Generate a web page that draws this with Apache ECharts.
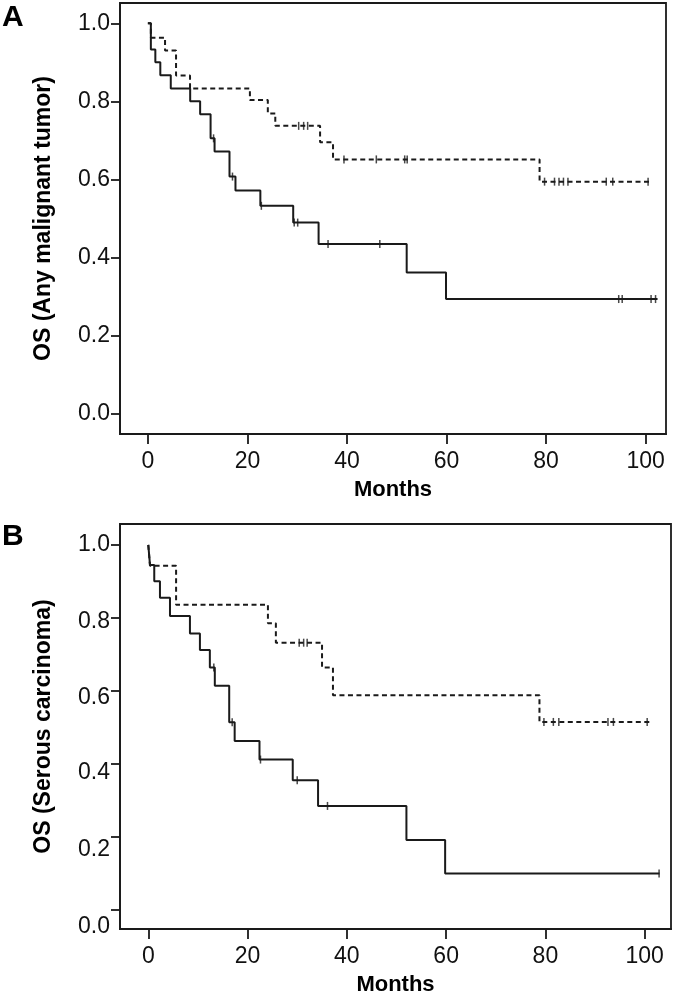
<!DOCTYPE html>
<html><head><meta charset="utf-8">
<script src="https://cdn.jsdelivr.net/npm/echarts@6/dist/echarts.min.js"></script>
<style>html,body{margin:0;padding:0;background:#fff}#c{width:675px;height:997px}</style>
</head><body><div id="c"></div>
<script>
// ---- Panel A: OS (Any malignant tumor) ----
const aSolidT = [0, 0.6, 1.5, 2.5, 4.6, 8.5, 10.5, 12.6, 13.4, 16.4, 17.6, 22.6, 29.2, 34.3, 52.0, 59.9, 102.4];
const aSolidS = [1.0, 0.933, 0.900, 0.867, 0.833, 0.800, 0.767, 0.705, 0.671, 0.607, 0.571, 0.532, 0.489, 0.434, 0.361, 0.293, 0.293];
const aSolidCens = [13.2, 17.0, 22.8, 29.4, 30.1, 36.2, 46.6, 94.6, 95.3, 101.1, 102.0];
const aDashT = [0, 0.6, 3.45, 5.66, 8.47, 20.5, 24.1, 25.6, 34.6, 37.2, 78.7, 101.0];
const aDashS = [1.0, 0.963, 0.930, 0.866, 0.833, 0.803, 0.769, 0.737, 0.695, 0.651, 0.594, 0.594];
const aDashCens = [30.3, 31.3, 32.1, 39.4, 45.9, 51.6, 52.1, 79.7, 81.7, 82.6, 83.5, 84.4, 92.1, 93.4, 100.5];

// ---- Panel B: OS (Serous carcinoma) ----
const bSolidT = [0, 0.34, 1.2, 2.35, 4.37, 8.39, 10.4, 12.4, 13.4, 16.3, 17.4, 22.4, 29.1, 34.2, 52.0, 59.8, 103.0];
const bSolidS = [1.0, 0.945, 0.900, 0.855, 0.805, 0.757, 0.712, 0.664, 0.614, 0.514, 0.463, 0.412, 0.355, 0.285, 0.192, 0.100, 0.100];
const bSolidCens = [13.2, 16.9, 22.6, 30.0, 36.1, 102.9];
const bDashT = [0, 0.34, 5.6, 24.1, 25.7, 35.0, 37.2, 78.8, 101.0];
const bDashS = [1.0, 0.943, 0.836, 0.785, 0.732, 0.664, 0.588, 0.515, 0.515];
const bDashCens = [30.4, 31.3, 32.0, 79.7, 81.6, 82.7, 92.6, 93.7, 100.5];

const xTicks = [0, 20, 40, 60, 80, 100];
const yTicks = [0, 0.2, 0.4, 0.6, 0.8, 1.0];
// label drift (px, downward) seen on panel B's y labels
const bLabelDrift = [17, 13, 9, 6.5, 4, 0];

const INK = '#1a1a1a';
const FONT = 'Liberation Sans, Arial, sans-serif';

function zip(t, s) { return t.map((v, i) => [v, s[i]]); }
function atTime(t, T, S) { let v = S[0]; for (let i = 0; i < T.length; i++) { if (T[i] <= t) v = S[i]; } return v; }
function cens(c, T, S) { return c.map(t => [t, atTime(t, T, S)]); }

function xAxis(gi, min, max) {
  return {
    type: 'value', gridIndex: gi, min: min, max: max,
    name: 'Months', nameLocation: 'middle', nameGap: 45,
    nameTextStyle: { fontFamily: FONT, fontWeight: 'bold', fontSize: 22, color: '#000' },
    axisLine: { show: true, onZero: false, lineStyle: { color: INK, width: 1.8 } },
    axisTick: { show: true, customValues: xTicks, length: 10, lineStyle: { color: INK, width: 1.8 } },
    axisLabel: { customValues: xTicks, margin: 16, fontFamily: FONT, fontSize: 23, color: '#111' },
    splitLine: { show: false }
  };
}
const rich = {};
yTicks.forEach((v, i) => { rich['d' + i] = { fontFamily: FONT, fontSize: 23, color: '#111', padding: [bLabelDrift[i] * 2, 0, 0, 0] }; });
function yAxis(gi, min, max, title, drift) {
  return {
    type: 'value', gridIndex: gi, min: min, max: max,
    name: title, nameLocation: 'middle', nameGap: 65,
    nameTextStyle: { fontFamily: FONT, fontWeight: 'bold', fontSize: 23, color: '#000' },
    axisLine: { show: true, onZero: false, lineStyle: { color: INK, width: 1.8 } },
    axisTick: { show: true, customValues: yTicks, length: 9, lineStyle: { color: INK, width: 1.8 } },
    axisLabel: {
      customValues: yTicks, margin: 10, fontFamily: FONT, fontSize: 23, color: '#111',
      formatter: drift ? (v => { const i = Math.round(v * 5); return '{d' + i + '|' + v.toFixed(1) + '}'; }) : (v => v.toFixed(1)),
      rich: drift ? rich : undefined
    },
    splitLine: { show: false }
  };
}
function curve(gi, T, S, dashed) {
  return {
    type: 'line', xAxisIndex: gi, yAxisIndex: gi, step: 'end', symbol: 'none', silent: true,
    data: zip(T, S),
    lineStyle: { color: INK, width: 2, type: dashed ? [5, 3.5] : 'solid' }
  };
}
function ticks(gi, C, T, S) {
  return {
    type: 'scatter', xAxisIndex: gi, yAxisIndex: gi, silent: true,
    symbol: 'rect', symbolSize: [1.5, 8],
    itemStyle: { color: INK }, data: cens(C, T, S)
  };
}

const chart = echarts.init(document.getElementById('c'), null, { renderer: 'canvas' });
chart.setOption({
  animation: false,
  backgroundColor: '#fff',
  grid: [
    { left: 120, top: 3, right: 9, height: 431, show: true, borderColor: INK, borderWidth: 1.8 },
    { left: 120, top: 524, right: 4, height: 407, show: true, borderColor: INK, borderWidth: 1.8 }
  ],
  xAxis: [xAxis(0, -5.6, 104.1), xAxis(1, -5.7, 105.3)],
  yAxis: [yAxis(0, -0.053, 1.052, 'OS (Any malignant tumor)', false),
          yAxis(1, -0.052, 1.057, 'OS (Serous carcinoma)', true)],
  graphic: [
    { type: 'text', left: 2, top: 3, style: { text: 'A', fontFamily: FONT, fontWeight: 'bold', fontSize: 30, fill: '#000' } },
    { type: 'text', left: 2, top: 522, style: { text: 'B', fontFamily: FONT, fontWeight: 'bold', fontSize: 30, fill: '#000' } }
  ],
  series: [
    curve(0, aDashT, aDashS, true), ticks(0, aDashCens, aDashT, aDashS),
    curve(0, aSolidT, aSolidS, false), ticks(0, aSolidCens, aSolidT, aSolidS),
    curve(1, bDashT, bDashS, true), ticks(1, bDashCens, bDashT, bDashS),
    curve(1, bSolidT, bSolidS, false), ticks(1, bSolidCens, bSolidT, bSolidS)
  ]
});
</script></body></html>
